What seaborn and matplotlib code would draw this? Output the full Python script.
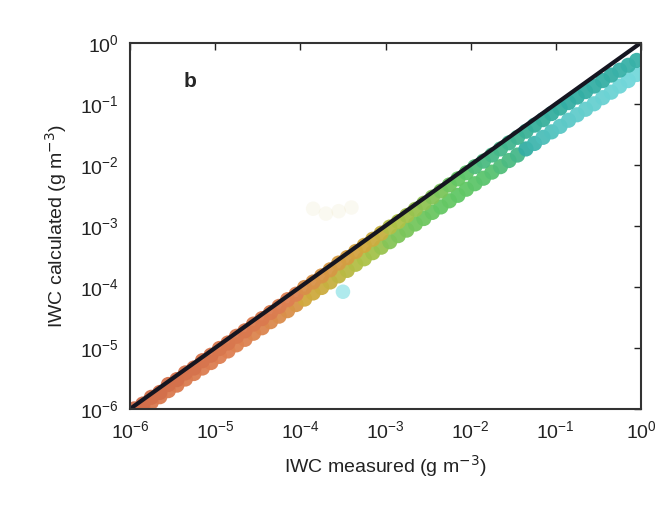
import numpy as np
import pandas as pd
import matplotlib
matplotlib.use("Agg")
import matplotlib.pyplot as plt
from matplotlib.colors import LinearSegmentedColormap
import seaborn as sns

# log10 of measured IWC (g m-3) along the band
log_measured = [
    -5.95, -5.85, -5.75, -5.65, -5.55, -5.45, -5.35, -5.25, -5.15, -5.05,
    -4.95, -4.85, -4.75, -4.65, -4.55, -4.45, -4.35, -4.25, -4.15, -4.05,
    -3.95, -3.85, -3.75, -3.65, -3.55, -3.45, -3.35, -3.25, -3.15, -3.05,
    -2.95, -2.85, -2.75, -2.65, -2.55, -2.45, -2.35, -2.25, -2.15, -2.05,
    -1.95, -1.85, -1.75, -1.65, -1.55, -1.45, -1.35, -1.25, -1.15, -1.05,
    -0.95, -0.85, -0.75, -0.65, -0.55, -0.45, -0.35, -0.25, -0.15, -0.05,
]
# log10 of calculated IWC, upper edge of the band (close to 1:1)
log_calc_upper = [
    -6.00, -5.92, -5.81, -5.73, -5.60, -5.52, -5.41, -5.33, -5.21, -5.12,
    -5.01, -4.92, -4.81, -4.72, -4.61, -4.52, -4.42, -4.32, -4.21, -4.12,
    -4.01, -3.92, -3.82, -3.72, -3.61, -3.52, -3.42, -3.32, -3.22, -3.12,
    -3.02, -2.93, -2.83, -2.73, -2.63, -2.53, -2.43, -2.33, -2.23, -2.13,
    -2.03, -1.94, -1.84, -1.74, -1.64, -1.55, -1.45, -1.35, -1.26, -1.16,
    -1.07, -0.98, -0.89, -0.80, -0.71, -0.62, -0.53, -0.45, -0.37, -0.29,
]
# log10 of calculated IWC, lower edge of the band
log_calc_lower = [
    -6.07, -5.98, -5.89, -5.80, -5.70, -5.61, -5.51, -5.42, -5.33, -5.24,
    -5.14, -5.05, -4.95, -4.86, -4.76, -4.67, -4.57, -4.48, -4.39, -4.29,
    -4.20, -4.10, -4.01, -3.92, -3.82, -3.73, -3.63, -3.54, -3.44, -3.35,
    -3.26, -3.16, -3.07, -2.97, -2.88, -2.78, -2.69, -2.59, -2.50, -2.40,
    -2.31, -2.22, -2.12, -2.03, -1.93, -1.84, -1.74, -1.65, -1.55, -1.46,
    -1.37, -1.27, -1.18, -1.09, -1.00, -0.90, -0.81, -0.71, -0.62, -0.52,
]
# colour variable for each row
colour_upper = [
    0.95, 0.95, 0.94, 0.94, 0.93, 0.93, 0.92, 0.92, 0.91, 0.91,
    0.90, 0.90, 0.89, 0.89, 0.88, 0.88, 0.87, 0.86, 0.85, 0.84,
    0.80, 0.79, 0.78, 0.77, 0.76, 0.75, 0.74, 0.72, 0.70, 0.68,
    0.62, 0.60, 0.58, 0.56, 0.54, 0.52, 0.50, 0.48, 0.46, 0.44,
    0.40, 0.38, 0.37, 0.36, 0.35, 0.34, 0.33, 0.32, 0.32, 0.31,
    0.31, 0.30, 0.30, 0.30, 0.29, 0.29, 0.29, 0.28, 0.28, 0.28,
]
colour_lower = [
    0.90, 0.90, 0.89, 0.89, 0.88, 0.88, 0.87, 0.87, 0.86, 0.86,
    0.85, 0.85, 0.84, 0.84, 0.83, 0.83, 0.82, 0.81, 0.80, 0.78,
    0.72, 0.71, 0.70, 0.68, 0.66, 0.64, 0.62, 0.60, 0.58, 0.56,
    0.52, 0.51, 0.50, 0.49, 0.48, 0.47, 0.46, 0.46, 0.45, 0.45,
    0.44, 0.43, 0.42, 0.40, 0.38, 0.36, 0.30, 0.25, 0.20, 0.18,
    0.15, 0.14, 0.12, 0.11, 0.10, 0.09, 0.08, 0.07, 0.06, 0.05,
]
# sparse outliers
outlier_log_measured = [-3.50]
outlier_log_calc = [-4.08]
outlier_colour = [0.02]
faint_log_measured = [-3.85, -3.70, -3.55, -3.40]
faint_log_calc = [-2.72, -2.80, -2.76, -2.70]
faint_colour = [0.68, 0.68, 0.68, 0.68]

band = pd.DataFrame({
    "measured": np.power(10.0, log_measured + log_measured),
    "calculated": np.power(10.0, log_calc_lower + log_calc_upper),
    "c": colour_lower + colour_upper,
})
outl = pd.DataFrame({
    "measured": np.power(10.0, outlier_log_measured),
    "calculated": np.power(10.0, outlier_log_calc),
    "c": outlier_colour,
})
faint = pd.DataFrame({
    "measured": np.power(10.0, faint_log_measured),
    "calculated": np.power(10.0, faint_log_calc),
    "c": faint_colour,
})

cmap = LinearSegmentedColormap.from_list("iwc", [
    (0.00, (0.50, 0.88, 0.90)),
    (0.30, (0.20, 0.68, 0.64)),
    (0.45, (0.38, 0.78, 0.40)),
    (0.60, (0.68, 0.76, 0.28)),
    (0.72, (0.82, 0.66, 0.24)),
    (0.85, (0.87, 0.50, 0.32)),
    (1.00, (0.80, 0.40, 0.28)),
])

sns.set_style("white")
plt.rcParams["font.family"] = ["Liberation Sans", "DejaVu Sans"]
fig = plt.figure(figsize=(6.67, 5.15), dpi=100)
ax = fig.add_axes([0.195, 0.206, 0.766, 0.711])

sns.scatterplot(data=band, x="measured", y="calculated", hue="c", palette=cmap,
                hue_norm=(0, 1), s=120, alpha=0.95, edgecolor="none", legend=False, ax=ax)
sns.scatterplot(data=outl, x="measured", y="calculated", hue="c", palette=cmap,
                hue_norm=(0, 1), s=110, alpha=0.6, edgecolor="none", legend=False, ax=ax)
sns.scatterplot(data=faint, x="measured", y="calculated", hue="c", palette=cmap,
                hue_norm=(0, 1), s=110, alpha=0.07, edgecolor="none", legend=False, ax=ax)

ax.set_xscale("log")
ax.set_yscale("log")
ax.set_xlim(1e-6, 1)
ax.set_ylim(1e-6, 1)
ax.plot([1e-6, 1], [1e-6, 1], color="#151520", lw=3)

ax.set_xticks([1e-6, 1e-5, 1e-4, 1e-3, 1e-2, 1e-1, 1])
ax.set_yticks([1e-6, 1e-5, 1e-4, 1e-3, 1e-2, 1e-1, 1])
ax.minorticks_off()
ax.tick_params(direction="in", length=5, width=1, top=True, right=True,
               labelsize=14, colors="#222222", pad=8)
for s in ax.spines.values():
    s.set_linewidth(1.5)
    s.set_color("#333333")

ax.set_xlabel("IWC measured (g m$^{-3}$)", fontsize=14, color="#222222", labelpad=8)
ax.set_ylabel("IWC calculated (g m$^{-3}$)", fontsize=14, color="#222222", labelpad=8)
ax.text(10**-5.3, 10**-0.64, "b", fontsize=15, fontweight="bold", ha="center", va="center")

fig.savefig("out.png", dpi=100)
